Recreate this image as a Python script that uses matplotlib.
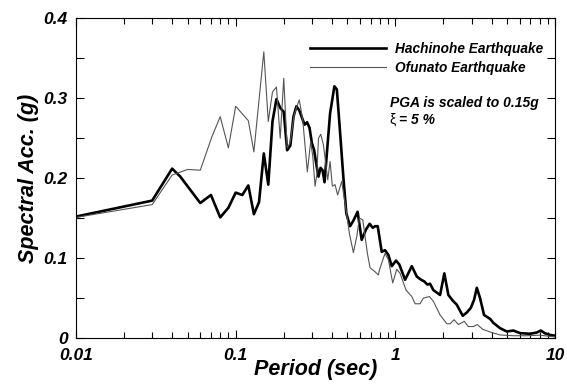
import matplotlib
matplotlib.use('Agg')
import matplotlib.pyplot as plt
import numpy as np
from matplotlib.ticker import FixedLocator, NullFormatter

plt.rcParams['font.family'] = ['Liberation Sans', 'DejaVu Sans']

# Hachinohe spectrum (period in sec, Sa in g)
per_h = [0.01, 0.03, 0.04, 0.045, 0.06, 0.07, 0.08, 0.09, 0.10, 0.11, 0.12, 0.13,
         0.14, 0.15, 0.16, 0.17, 0.18, 0.19, 0.20, 0.21, 0.22, 0.23, 0.24, 0.25,
         0.27, 0.28, 0.29, 0.30, 0.31, 0.32, 0.33, 0.34, 0.35, 0.36, 0.39, 0.415,
         0.43, 0.446, 0.472, 0.493, 0.52, 0.546, 0.58, 0.615, 0.655, 0.69, 0.722,
         0.746, 0.775, 0.821, 0.861, 0.904, 0.949, 1.01, 1.059, 1.15, 1.267, 1.362,
         1.449, 1.514, 1.586, 1.648, 1.73, 1.905, 2.025, 2.146, 2.286, 2.42, 2.64,
         2.8, 2.97, 3.11, 3.235, 3.39, 3.59, 3.92, 4.11, 4.52, 4.98, 5.48, 6.03,
         6.96, 7.67, 8.13, 8.65, 9.31, 10.0]
sa_h = [0.152, 0.172, 0.212, 0.202, 0.169, 0.179, 0.151, 0.163, 0.182, 0.179, 0.191, 0.155,
        0.170, 0.231, 0.192, 0.271, 0.299, 0.288, 0.283, 0.235, 0.241, 0.277, 0.290, 0.285,
        0.267, 0.270, 0.263, 0.244, 0.235, 0.217, 0.202, 0.213, 0.210, 0.195, 0.281, 0.315,
        0.311, 0.269, 0.202, 0.156, 0.140, 0.147, 0.158, 0.123, 0.136, 0.143, 0.138,
        0.140, 0.140, 0.108, 0.110, 0.104, 0.090, 0.097, 0.092, 0.073, 0.090, 0.077,
        0.073, 0.071, 0.067, 0.068, 0.060, 0.054, 0.081, 0.054, 0.047, 0.042, 0.028,
        0.032, 0.038, 0.048, 0.063, 0.050, 0.029, 0.024, 0.019, 0.0125, 0.0083, 0.0095, 0.0063,
        0.0054, 0.007, 0.0095, 0.006, 0.004, 0.003]

# Ofunato spectrum
per_o = [0.01, 0.03, 0.04, 0.05, 0.06, 0.071, 0.08, 0.09, 0.10, 0.12, 0.13, 0.15,
         0.16, 0.17, 0.18, 0.19, 0.20, 0.21, 0.219, 0.232, 0.25, 0.263, 0.281, 0.295,
         0.304, 0.314, 0.322, 0.33, 0.341, 0.354, 0.364, 0.377, 0.39, 0.403, 0.419,
         0.435, 0.461, 0.489, 0.515, 0.546, 0.573, 0.595, 0.625, 0.668, 0.694, 0.746,
         0.782, 0.794, 0.861, 0.904, 0.962, 1.02, 1.07, 1.166, 1.267, 1.33, 1.427,
         1.497, 1.633, 1.73, 1.905, 2.1, 2.2, 2.33, 2.48, 2.7, 2.86, 3.08, 3.26, 3.52,
         4.01, 4.52, 5.48, 6.64, 8.05, 10.0]
sa_o = [0.151, 0.167, 0.204, 0.211, 0.210, 0.252, 0.277, 0.238, 0.290, 0.272, 0.233, 0.358,
        0.271, 0.308, 0.314, 0.250, 0.325, 0.238, 0.244, 0.279, 0.298, 0.273, 0.208, 0.246,
        0.227, 0.190, 0.204, 0.250, 0.255, 0.242, 0.223, 0.198, 0.221, 0.190, 0.192,
        0.179, 0.196, 0.163, 0.131, 0.107, 0.127, 0.150, 0.148, 0.106, 0.088, 0.083,
        0.079, 0.085, 0.106, 0.098, 0.069, 0.086, 0.081, 0.060, 0.052, 0.043, 0.043,
        0.050, 0.052, 0.046, 0.029, 0.018, 0.018, 0.023, 0.017, 0.021, 0.0145, 0.0145, 0.017, 0.011,
        0.007, 0.004, 0.003, 0.003, 0.0037, 0.0015]

fig = plt.figure(figsize=(5.67, 3.90), dpi=100)
ax = fig.add_axes([0.134, 0.133, 0.845, 0.820])

ax.plot(per_h, sa_h, color='black', lw=1.9, label='Hachinohe Earthquake')
ax.plot(per_o, sa_o, color='#555555', lw=0.8, label='Ofunato Earthquake')

ax.set_xscale('log')
ax.set_xlim(0.01, 10)
ax.set_ylim(0, 0.4)

fnt = dict(fontweight='bold', fontstyle='italic')
ax.set_xticks([0.01, 0.1, 1, 10])
ax.set_xticklabels(['0.01', '0.1', '1', '10'], fontsize=12.5, **fnt)
ax.set_yticks([0, 0.1, 0.2, 0.3, 0.4])
ax.set_yticklabels(['0', '0.1', '0.2', '0.3', '0.4'], fontsize=12.5, **fnt)
ax.yaxis.set_minor_locator(FixedLocator([0.05, 0.15, 0.25, 0.35]))
ax.xaxis.set_minor_formatter(NullFormatter())

ax.tick_params(which='both', direction='in', top=True, right=True, width=0.8)
ax.tick_params(which='major', length=6)
ax.tick_params(axis='x', which='major', pad=7)
ax.tick_params(axis='y', which='major', pad=6)
ax.tick_params(axis='y', which='minor', length=6)
ax.tick_params(axis='x', which='minor', length=4)

ax.set_xlabel('Period (sec)', fontsize=15.5, labelpad=-3, **fnt)
ax.set_ylabel('Spectral Acc. (g)', fontsize=15.5, labelpad=3, **fnt)

ax.legend(loc='upper right', bbox_to_anchor=(1.0, 0.965), frameon=False,
          prop=dict(size=9.8, weight='bold', style='italic'),
          handlelength=5.6, handletextpad=0.6, labelspacing=0.35)

ax.text(0.655, 0.736, 'PGA is scaled to 0.15g', transform=ax.transAxes,
        fontsize=10, va='center', **fnt)
ax.text(0.655, 0.683, 'ξ', transform=ax.transAxes, fontsize=10, va='center')
ax.text(0.675, 0.683, '= 5 %', transform=ax.transAxes,
        fontsize=10, va='center', **fnt)

fig.savefig('out.png', dpi=100)
